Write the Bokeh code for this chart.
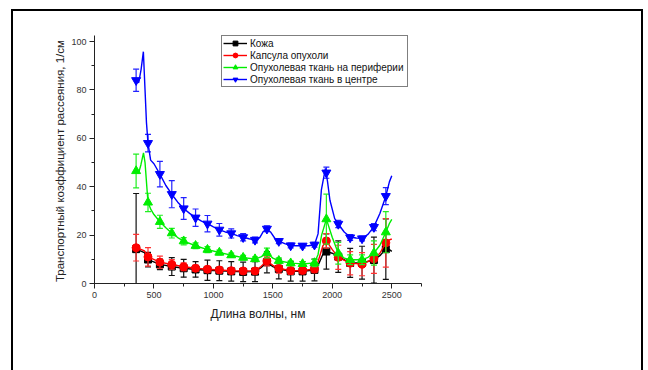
import numpy as np
from bokeh.plotting import figure
from bokeh.models import ColumnDataSource, Range1d, SingleIntervalTicker, Legend, LegendItem
from bokeh.embed import file_html
from bokeh.resources import INLINE

# ---------------- data ----------------
wl = [350, 450, 550, 650, 750, 850, 950, 1050, 1150, 1250, 1350,
      1450, 1550, 1650, 1750, 1850, 1950, 2050, 2150, 2250, 2350, 2450]

skin = [14.2, 9.9, 7.9, 7.0, 6.3, 5.8, 5.5, 5.3, 5.0, 4.8, 4.9,
        8.8, 6.0, 5.0, 5.0, 5.6, 13.2, 11.1, 8.5, 8.6, 9.7, 14.2]
skin_err = [23.0, 3.0, 2.2, 3.7, 3.7, 3.2, 4.2, 4.1, 4.0, 4.0, 4.1,
            4.4, 4.1, 4.0, 4.0, 4.5, 7.3, 6.5, 6.0, 6.8, 9.5, 12.5]

caps = [14.8, 11.0, 8.8, 7.9, 6.9, 6.3, 5.9, 5.6, 5.3, 5.2, 5.2,
        9.3, 6.3, 5.3, 5.4, 6.0, 17.6, 10.8, 8.4, 8.0, 10.2, 16.8]
caps_err = [5.5, 3.8, 2.5, 2.0, 1.6, 1.3, 1.2, 1.1, 1.0, 1.0, 1.0,
            2.0, 2.0, 1.5, 1.3, 1.5, 3.0, 5.0, 4.8, 4.8, 6.0, 10.0]

peri = [46.5, 33.5, 25.5, 20.8, 17.5, 15.6, 14.0, 12.8, 11.7, 10.7, 10.1,
        12.6, 9.4, 8.4, 8.1, 8.5, 26.6, 12.5, 9.8, 9.8, 12.6, 21.2]
peri_err = [7.0, 3.8, 2.7, 2.0, 1.5, 1.2, 1.2, 1.0, 0.9, 0.9, 0.9,
            2.0, 1.2, 1.0, 1.0, 1.5, 10.3, 4.5, 2.0, 2.0, 5.0, 8.5]

cent = [84.0, 58.0, 45.2, 36.9, 31.0, 27.2, 24.7, 22.2, 20.7, 19.1, 18.0,
        22.6, 17.5, 15.7, 15.6, 16.0, 45.8, 24.6, 19.0, 18.6, 23.3, 36.1]
cent_err = [4.6, 3.6, 5.3, 5.6, 4.5, 3.6, 3.4, 2.6, 1.9, 1.5, 1.2,
            1.2, 1.0, 1.0, 0.9, 1.0, 2.3, 1.5, 1.2, 1.0, 1.5, 3.5]

# continuous spectra
skin_line_x = [350, 380, 420, 450, 550, 650, 750, 850, 950, 1050, 1150, 1250, 1350, 1400, 1450,
               1500, 1550, 1650, 1750, 1850, 1880, 1920, 1950, 2000, 2050, 2150, 2250, 2350,
               2400, 2450, 2480, 2500]
skin_line_y = [14.2, 13.6, 12.8, 9.9, 7.9, 7.0, 6.3, 5.8, 5.5, 5.3, 5.0, 4.8, 4.9, 6.5, 8.8,
               7.0, 6.0, 5.0, 5.0, 5.6, 7.5, 12.0, 13.2, 12.5, 11.1, 8.5, 8.6, 9.7,
               11.5, 14.2, 14.0, 13.3]

caps_line_x = [350, 380, 420, 450, 550, 650, 750, 850, 950, 1050, 1150, 1250, 1350, 1400, 1450,
               1500, 1550, 1650, 1750, 1850, 1880, 1920, 1950, 2000, 2050, 2150, 2250, 2350,
               2400, 2450, 2480, 2500]
caps_line_y = [14.8, 14.3, 13.5, 11.0, 8.8, 7.9, 6.9, 6.3, 5.9, 5.6, 5.3, 5.2, 5.2, 7.0, 9.3,
               7.5, 6.3, 5.3, 5.4, 6.0, 9.0, 15.5, 17.6, 14.0, 10.8, 8.4, 8.0, 10.2,
               12.5, 16.8, 18.0, 18.4]

peri_line_x = [350, 370, 390, 412, 425, 440, 450, 475, 500, 550, 600, 650, 700, 750, 850, 950,
               1050, 1150, 1250, 1350, 1400, 1450, 1500, 1550, 1650, 1750, 1850, 1880, 1910,
               1950, 2000, 2050, 2100, 2150, 2250, 2300, 2350, 2400, 2450, 2480, 2500]
peri_line_y = [46.5, 45.5, 49.0, 54.0, 50.0, 40.0, 33.5, 30.5, 28.5, 25.5, 23.0, 20.8, 19.0, 17.5,
               15.6, 14.0, 12.8, 11.7, 10.7, 10.1, 11.0, 12.6, 10.5, 9.4, 8.4, 8.1, 8.5, 12.0,
               20.0, 26.6, 19.0, 12.5, 10.5, 9.8, 9.8, 10.8, 12.6, 15.8, 21.2, 24.8, 26.5]

cent_line_x = [350, 372, 392, 411, 425, 437, 450, 472, 500, 550, 600, 650, 700, 750, 800, 850,
               900, 950, 1000, 1050, 1100, 1150, 1200, 1250, 1300, 1350, 1390, 1420, 1450, 1480,
               1515, 1550, 1600, 1650, 1700, 1750, 1800, 1850, 1880, 1908, 1942, 1960, 1980,
               2020, 2050, 2100, 2150, 2200, 2250, 2300, 2350, 2400, 2450, 2480, 2500]
cent_line_y = [84.0, 83.0, 88.5, 95.8, 80.0, 66.5, 58.0, 51.0, 49.5, 45.2, 40.5, 36.9, 33.6, 31.0,
               29.0, 27.2, 25.8, 24.7, 23.4, 22.2, 21.3, 20.7, 19.8, 19.1, 18.5, 18.0, 19.0, 21.5,
               22.6, 21.3, 18.8, 17.5, 16.5, 15.7, 15.6, 15.6, 15.6, 16.0, 20.5, 38.7, 47.6, 42.0,
               34.4, 26.8, 24.6, 21.3, 19.2, 18.8, 18.7, 20.3, 23.5, 28.9, 36.1, 42.0, 44.5]

labels = ["Кожа", "Капсула опухоли", "Опухолевая ткань на периферии", "Опухолевая ткань в центре"]
x_label = "Длина волны, нм"
y_label = "Транспортный коэффициент рассеяния,  1/см"

# ---------------- figure ----------------
FONT = "Liberation Sans"
p = figure(width=628, height=359, output_backend="svg", toolbar_location=None,
           x_range=Range1d(0, 2750), y_range=Range1d(0, 102.5),
           min_border_left=81, min_border_right=224, min_border_top=24, min_border_bottom=89)
p.styles = {
    "border-left": "2px solid black",
    "border-top": "2px solid black",
    "border-right": "2px solid black",
    "margin-left": "11px",
    "margin-top": "9px",
    "box-sizing": "content-box",
}
p.background_fill_color = "white"
p.border_fill_color = "white"
p.outline_line_color = None
p.xgrid.visible = False
p.ygrid.visible = False

p.xaxis.ticker = SingleIntervalTicker(interval=500, num_minor_ticks=2)
p.yaxis.ticker = SingleIntervalTicker(interval=20, num_minor_ticks=2)
for ax in (p.xaxis[0], p.yaxis[0]):
    ax.axis_line_color = "#222222"
    ax.axis_line_width = 1
    ax.major_tick_line_color = "#222222"
    ax.minor_tick_line_color = "#222222"
    ax.major_tick_out = 5
    ax.major_tick_in = 0
    ax.minor_tick_out = 3
    ax.minor_tick_in = 0
    ax.major_label_text_font = FONT
    ax.major_label_text_font_size = "9px"
    ax.major_label_text_color = "#333333"
    ax.major_label_standoff = 3
    ax.axis_label_text_font = FONT
    ax.axis_label_text_font_style = "normal"
    ax.axis_label_text_color = "#222222"
p.xaxis.axis_label = x_label
p.yaxis.axis_label = y_label
p.xaxis.axis_label_text_font_size = "12px"
p.yaxis.axis_label_text_font_size = "11.5px"
p.xaxis.axis_label_standoff = 6
p.yaxis.axis_label_standoff = 2

series = [
    (wl, skin, skin_err, skin_line_x, skin_line_y, "#000000", "#111111", "square", 7),
    (wl, caps, caps_err, caps_line_x, caps_line_y, "#ff0000", "#ff3333", "circle", 8),
    (wl, peri, peri_err, peri_line_x, peri_line_y, "#00ee00", "#22ee22", "triangle", 9),
    (wl, cent, cent_err, cent_line_x, cent_line_y, "#0000ff", "#2222ff", "inverted_triangle", 9),
]

items = []
for (xs, ys, es, lx, ly, col, ecol, marker, size), lab in zip(series, labels):
    xs_a = np.array(xs, dtype=float)
    ys_a = np.array(ys, dtype=float)
    es_a = np.array(es, dtype=float)
    src = ColumnDataSource(dict(x=xs_a, y=ys_a, lo=ys_a - es_a, hi=ys_a + es_a))
    p.segment(x0="x", y0="lo", x1="x", y1="hi", source=src, line_color=ecol, line_width=1.2)
    p.scatter(x="x", y="hi", source=src, marker="dash", size=6, line_color=ecol, line_width=1.2)
    p.scatter(x="x", y="lo", source=src, marker="dash", size=6, line_color=ecol, line_width=1.2)
    lr = p.line(lx, ly, line_color=col, line_width=1.4)
    sr = p.scatter(x="x", y="y", source=src, marker=marker, size=size,
                   fill_color=col, line_color=col)
    items.append(LegendItem(label=lab, renderers=[lr, sr]))

legend = Legend(items=items, location=(127, 196))
legend.label_text_font = FONT
legend.label_text_font_size = "10px"
legend.label_text_color = "#111111"
legend.glyph_width = 24
legend.glyph_height = 12
legend.label_height = 12
legend.label_width = 156
legend.label_standoff = 3
legend.spacing = 0
legend.padding = 1
legend.margin = 0
legend.border_line_color = "#000000"
legend.border_line_width = 1
legend.background_fill_color = "white"
legend.background_fill_alpha = 1
p.add_layout(legend)

open("out.html", "w").write(file_html(p, INLINE))
